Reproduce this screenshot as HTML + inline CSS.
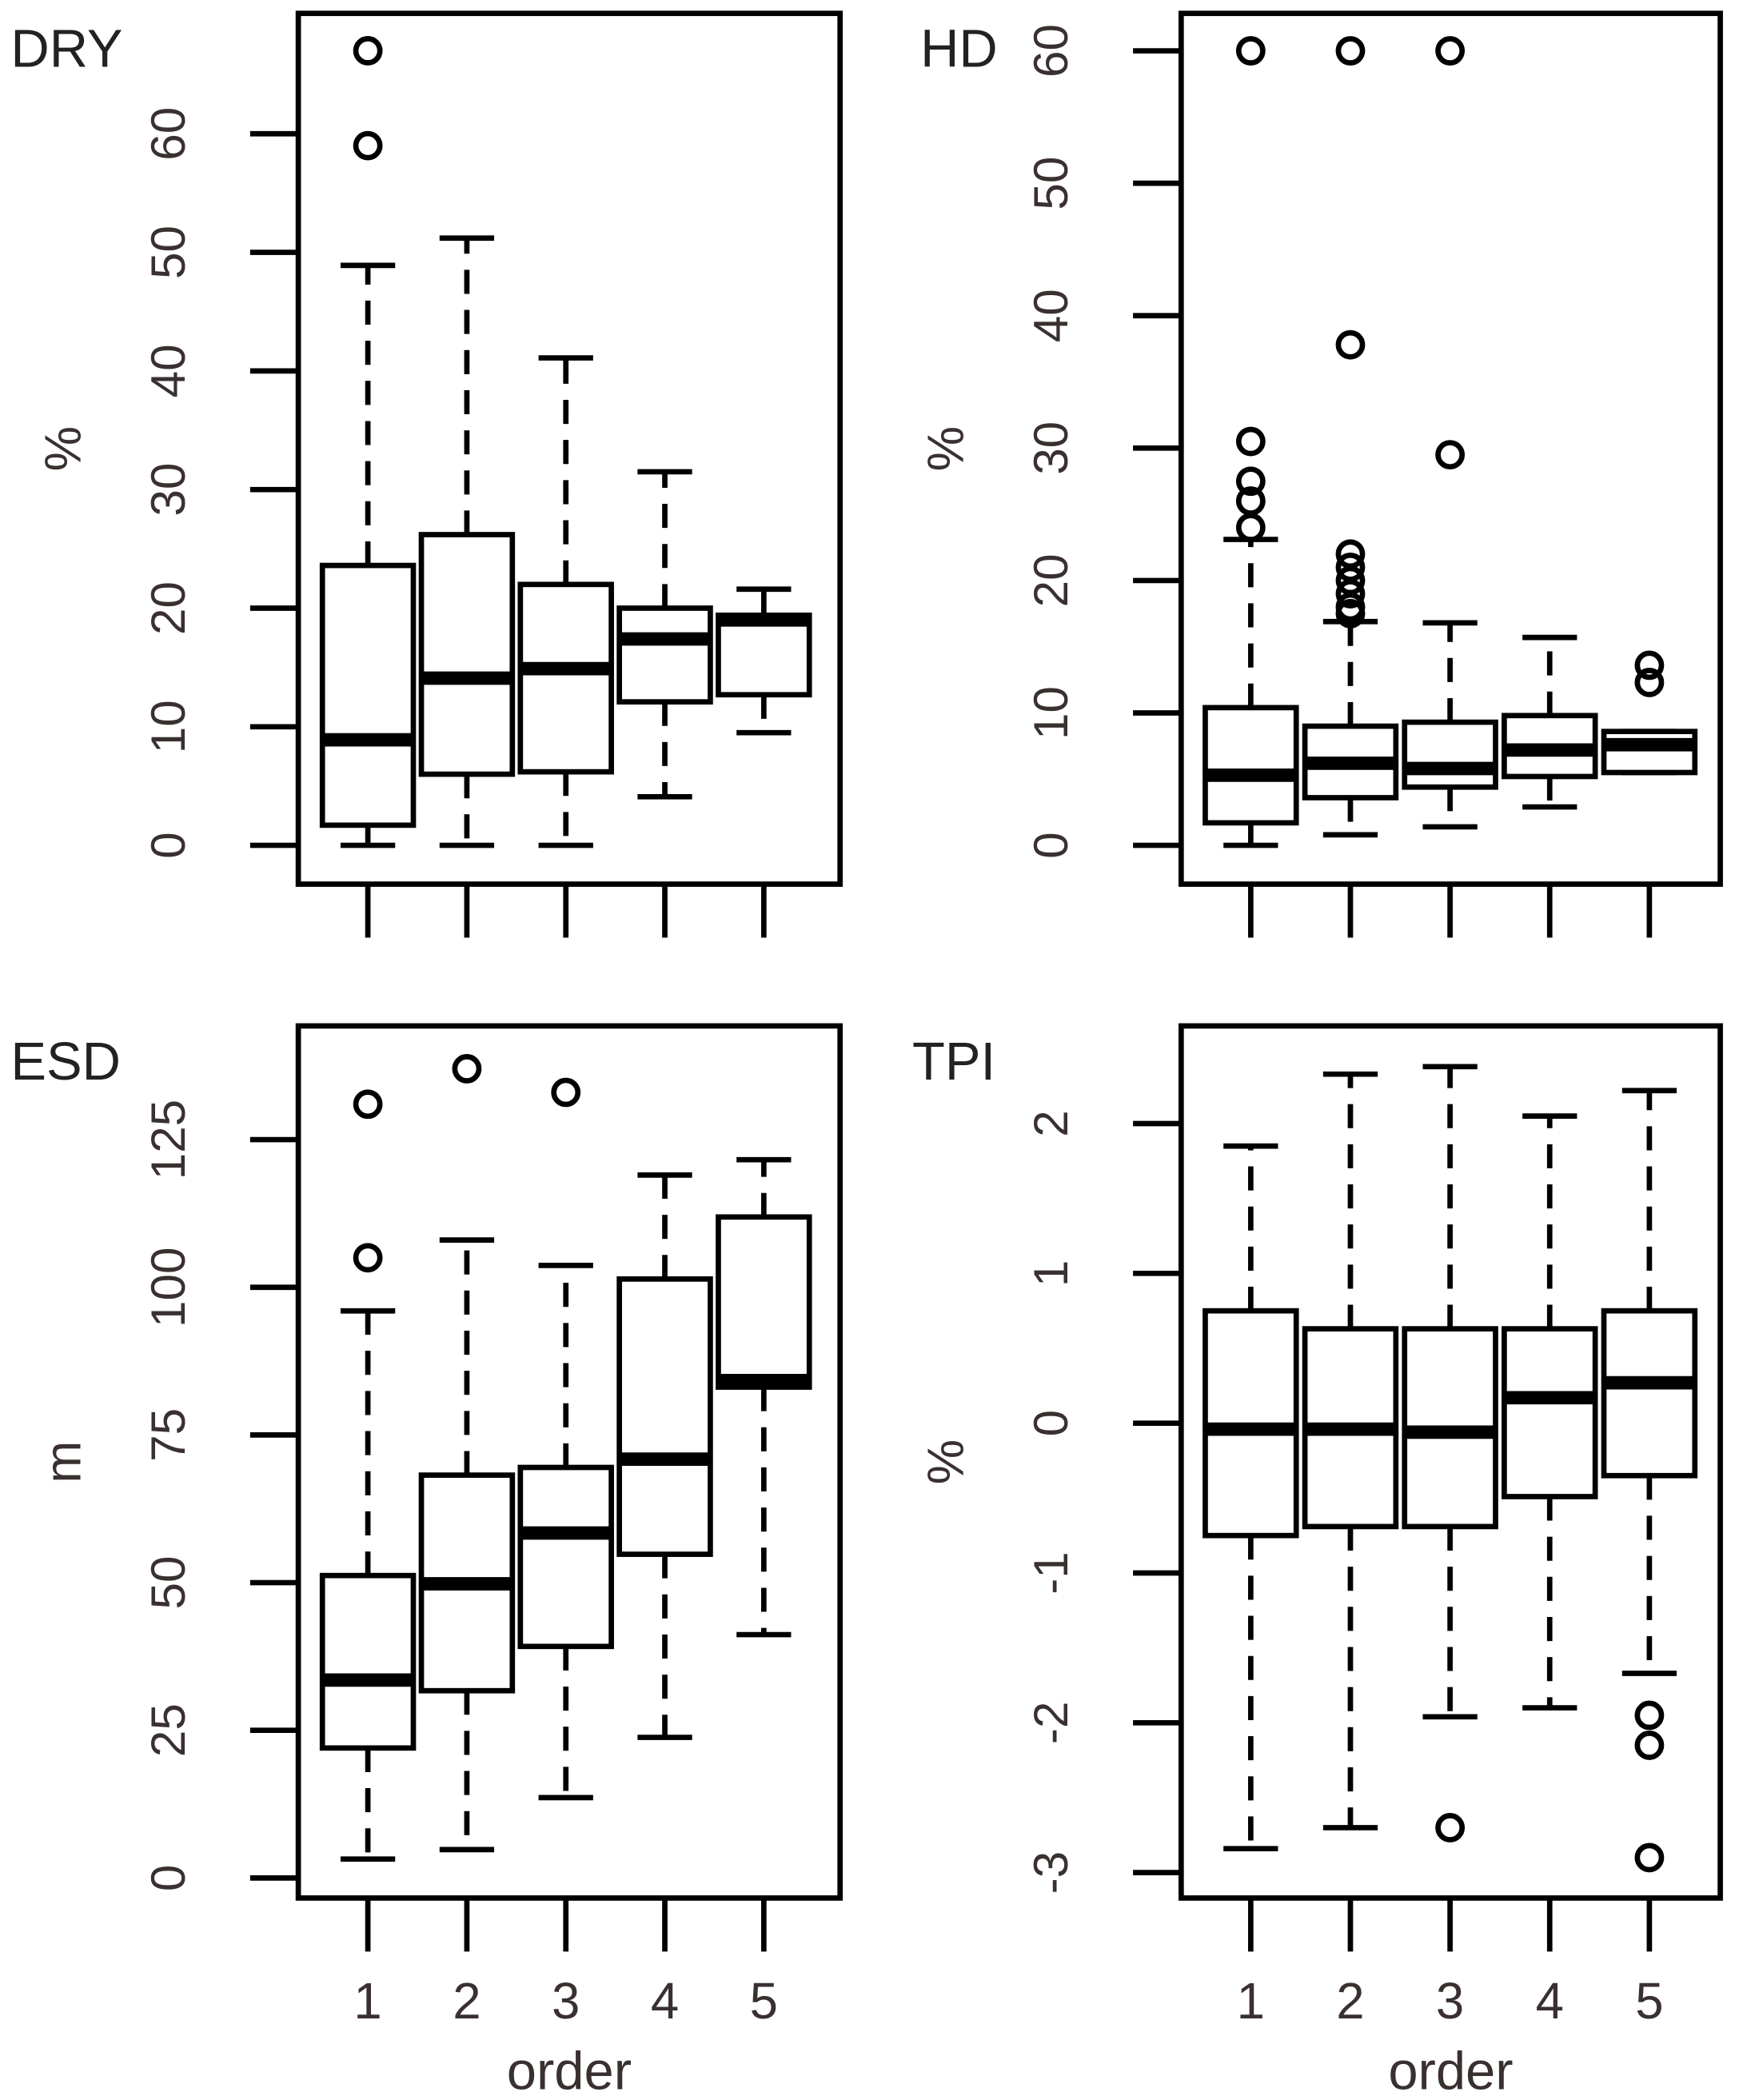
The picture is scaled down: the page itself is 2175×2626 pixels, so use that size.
<!DOCTYPE html>
<html><head><meta charset="utf-8"><style>
html,body{margin:0;padding:0;background:#fff;}
svg{display:block;}
text{font-family:"Liberation Sans",sans-serif;}
</style></head><body>
<svg id="chart" xmlns="http://www.w3.org/2000/svg" width="2175" height="2626" viewBox="0 0 1300 1570" preserveAspectRatio="none"></svg>
<script>
const categories = ["1","2","3","4","5"];
// DRY (%)
const dryLo  = [0, 0, 0, 4.1, 9.5];
const dryQ1  = [1.7, 6, 6.2, 12.1, 12.7];
const dryMed = [8.9, 14.1, 14.9, 17.4, 19];
const dryQ3  = [23.6, 26.2, 22, 20, 19.4];
const dryHi  = [48.9, 51.2, 41.1, 31.5, 21.6];
const dryOut = [[59, 67], [], [], [], []];
const dryTicks = [0, 10, 20, 30, 40, 50, 60];
// HD (%)
const hdLo  = [0, 0.8, 1.4, 2.9, 5.5];
const hdQ1  = [1.7, 3.6, 4.4, 5.2, 5.5];
const hdMed = [5.3, 6.2, 5.8, 7.2, 7.6];
const hdQ3  = [10.4, 9, 9.3, 9.8, 8.6];
const hdHi  = [23.1, 16.9, 16.8, 15.7, 8.6];
const hdOut = [[24, 26, 27.5, 30.5, 60], [17.5, 18, 19, 20, 21, 22, 37.8, 60], [29.5, 60], [], [12.3, 13.6]];
const hdTicks = [0, 10, 20, 30, 40, 50, 60];
// ESD (m)
const esdLo  = [3.2, 4.8, 13.6, 23.8, 41.2];
const esdQ1  = [22, 31.7, 39.2, 54.8, 83.1];
const esdMed = [33.5, 49.8, 58.4, 70.9, 84.2];
const esdQ3  = [51.2, 68.2, 69.5, 101.4, 111.9];
const esdHi  = [96, 108, 103.7, 119, 121.6];
const esdOut = [[105, 131], [137], [133], [], []];
const esdTicks = [0, 25, 50, 75, 100, 125];
// TPI (%)
const tpiLo  = [-2.84, -2.7, -1.96, -1.9, -1.67];
const tpiQ1  = [-0.75, -0.69, -0.69, -0.49, -0.35];
const tpiMed = [-0.04, -0.04, -0.06, 0.17, 0.27];
const tpiQ3  = [0.75, 0.63, 0.63, 0.63, 0.75];
const tpiHi  = [1.85, 2.33, 2.38, 2.05, 2.22];
const tpiOut = [[], [], [-2.7], [], [-1.95, -2.15, -2.9]];
const tpiTicks = [-3, -2, -1, 0, 1, 2];

const NS = "http://www.w3.org/2000/svg";
const svg = document.getElementById("chart");
function mk(tag, attrs, parent) {
  const e = document.createElementNS(NS, tag);
  for (const k in attrs) e.setAttribute(k, attrs[k]);
  (parent || svg).appendChild(e);
  return e;
}

function panel(cfg) {
  const g = mk("g", {});
  
  
  const y = v => cfg.y0 + (v - cfg.v0) * (cfg.y1 - cfg.y0) / (cfg.v1 - cfg.v0);
  const xc = i => cfg.xs + i * cfg.dx;
  const sw = 4;
  // frame
  const fr = mk("rect", {x: cfg.L, y: cfg.T, width: cfg.R - cfg.L, height: cfg.B - cfg.T, fill: "none", stroke: "#000", "stroke-width": sw}, g);
  
  
  // y ticks
  cfg.ticks.forEach(t => {
    const ln = mk("line", {x1: cfg.L - 36, x2: cfg.L, y1: y(t), y2: y(t), stroke: "#000", "stroke-width": sw}, g);
    
    
    const tx = mk("text", {x: 0, y: 0, "font-size": 36, fill: "#3a3030", "text-anchor": "middle",
      transform: `translate(${cfg.L - 85},${y(t)}) rotate(-90)`}, g);
    tx.textContent = String(t);
    
    
  });
  // x ticks
  categories.forEach((c, i) => {
    const ln = mk("line", {x1: xc(i), x2: xc(i), y1: cfg.B, y2: cfg.B + 40, stroke: "#000", "stroke-width": sw}, g);
    
    
    if (cfg.xlabels) {
      const tx = mk("text", {x: xc(i), y: cfg.B + 90, "font-size": 38, fill: "#3a3030", "text-anchor": "middle"}, g);
      tx.textContent = c;
      
      
    }
  });
  // boxes
  categories.forEach((c, i) => {
    const bg = mk("g", {}, g);
    
    
    const x = xc(i), hw = 34, cw = 17;
    const dash = {stroke: "#000", "stroke-width": sw, "stroke-dasharray": "18,12"};
    mk("line", Object.assign({x1: x, x2: x, y1: y(cfg.q3[i]), y2: y(cfg.hi[i])}, dash), bg);
    mk("line", Object.assign({x1: x, x2: x, y1: y(cfg.q1[i]), y2: y(cfg.lo[i])}, dash), bg);
    mk("line", {x1: x - cw * 1.2, x2: x + cw * 1.2, y1: y(cfg.hi[i]), y2: y(cfg.hi[i]), stroke: "#000", "stroke-width": sw}, bg);
    mk("line", {x1: x - cw * 1.2, x2: x + cw * 1.2, y1: y(cfg.lo[i]), y2: y(cfg.lo[i]), stroke: "#000", "stroke-width": sw}, bg);
    const top = y(cfg.q3[i]), bot = y(cfg.q1[i]);
    mk("rect", {x: x - hw, y: Math.min(top, bot), width: 2 * hw, height: Math.abs(bot - top), fill: "#fff", stroke: "#000", "stroke-width": sw}, bg);
    mk("line", {x1: x - hw, x2: x + hw, y1: y(cfg.med[i]), y2: y(cfg.med[i]), stroke: "#000", "stroke-width": 10}, bg);
    cfg.out[i].forEach(v => {
      const o = mk("circle", {cx: x, cy: y(v), r: 9, fill: "none", stroke: "#000", "stroke-width": 4}, bg);
      
      
    });
  });
  // title
  const tt = mk("text", {x: cfg.titleX, y: cfg.T + 40, "font-size": 40, fill: "#222"}, g);
  tt.textContent = cfg.title;
  
  
  // y title
  const yt = mk("text", {x: 0, y: 0, "font-size": 38, fill: "#3a3030", "text-anchor": "middle",
    transform: `translate(${cfg.ytX},${(cfg.T + cfg.B) / 2}) rotate(-90)`}, g);
  yt.textContent = cfg.ytitle;
  
  
  if (cfg.xlabels) {
    const xt = mk("text", {x: (cfg.L + cfg.R) / 2, y: cfg.B + 143, "font-size": 40, fill: "#3a3030", "text-anchor": "middle"}, g);
    xt.textContent = "order";
    
    
  }
}

panel({name: "dry", title: "DRY", ytitle: "%", L: 223, R: 628, T: 10, B: 661, xs: 275, dx: 74, v0: 0, y0: 632, v1: 60, y1: 100,
  ticks: dryTicks, lo: dryLo, q1: dryQ1, med: dryMed, q3: dryQ3, hi: dryHi, out: dryOut, titleX: 8, ytX: 60, xlabels: false});
panel({name: "hd", title: "HD", ytitle: "%", L: 883, R: 1286, T: 10, B: 661, xs: 935, dx: 74.5, v0: 0, y0: 632, v1: 60, y1: 38,
  ticks: hdTicks, lo: hdLo, q1: hdQ1, med: hdMed, q3: hdQ3, hi: hdHi, out: hdOut, titleX: 688, ytX: 720, xlabels: false});
panel({name: "esd", title: "ESD", ytitle: "m", L: 223, R: 628, T: 767, B: 1419, xs: 275, dx: 74, v0: 0, y0: 1404, v1: 125, y1: 852,
  ticks: esdTicks, lo: esdLo, q1: esdQ1, med: esdMed, q3: esdQ3, hi: esdHi, out: esdOut, titleX: 8, ytX: 60, xlabels: true});
panel({name: "tpi", title: "TPI", ytitle: "%", L: 883, R: 1286, T: 767, B: 1419, xs: 935, dx: 74.5, v0: 0, y0: 1064, v1: 2, y1: 840,
  ticks: tpiTicks, lo: tpiLo, q1: tpiQ1, med: tpiMed, q3: tpiQ3, hi: tpiHi, out: tpiOut, titleX: 682, ytX: 720, xlabels: true});
</script>
</body></html>
